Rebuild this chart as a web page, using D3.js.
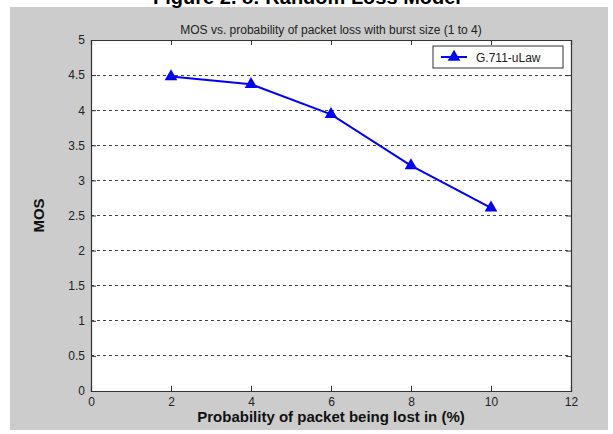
<!DOCTYPE html>
<html>
<head>
<meta charset="utf-8">
<script src="https://cdn.jsdelivr.net/npm/d3@7"></script>
<style>
body { margin: 0; background: #fff; }
text { font-family: Arial, "Liberation Sans", sans-serif; }
</style>
</head>
<body>
<script>
// data
const lossPct = [2, 4, 6, 8, 10];
const mos = [4.48, 4.37, 3.94, 3.21, 2.61];
const xTicks = [0, 2, 4, 6, 8, 10, 12];
const yTicks = [0, 0.5, 1, 1.5, 2, 2.5, 3, 3.5, 4, 4.5, 5];
const seriesName = "G.711-uLaw";

const W = 613, H = 434;
const plot = {left: 91, top: 40, right: 571, bottom: 391};

const svg = d3.select("body").append("svg")
    .attr("width", W)
    .attr("height", H);

// grey figure background
svg.append("rect")
    .attr("x", 10).attr("y", 7)
    .attr("width", 598).attr("height", 423)
    .attr("fill", "#cccccc");

// figure caption, mostly cut off at the top like in the scan
svg.append("text")
    .attr("x", 307).attr("y", 4)
    .attr("text-anchor", "middle")
    .attr("font-family", "'Liberation Serif', 'Times New Roman', serif")
    .attr("font-weight", "bold")
    .attr("font-size", "20px")
    .text("Figure 2. 8: Random Loss Model");

const x = d3.scaleLinear().domain([0, 12]).range([plot.left, plot.right]);
const y = d3.scaleLinear().domain([0, 5]).range([plot.bottom, plot.top]);

svg.append("rect")
    .attr("x", plot.left).attr("y", plot.top)
    .attr("width", plot.right - plot.left).attr("height", plot.bottom - plot.top)
    .attr("fill", "#fff");

// dashed grid
svg.append("g")
    .selectAll("line")
    .data(yTicks.filter(d => d > 0 && d < 5))
    .enter()
    .append("line")
    .attr("x1", plot.left).attr("x2", plot.right)
    .attr("y1", d => y(d)).attr("y2", d => y(d))
    .attr("stroke", "#444")
    .attr("stroke-dasharray", "3,3")
    .attr("shape-rendering", "crispEdges");

// axes, ticks pointing inward
const tickFmt = d3.format("");
svg.append("g")
    .attr("transform", `translate(0,${plot.bottom})`)
    .call(d3.axisBottom(x).tickValues(xTicks).tickSize(-5).tickPadding(6).tickFormat(tickFmt));
svg.append("g")
    .attr("transform", `translate(0,${plot.top})`)
    .call(d3.axisTop(x).tickValues(xTicks).tickSize(-5).tickFormat(""));
svg.append("g")
    .attr("transform", `translate(${plot.left},0)`)
    .call(d3.axisLeft(y).tickValues(yTicks).tickSize(-5).tickPadding(6).tickFormat(tickFmt));
svg.append("g")
    .attr("transform", `translate(${plot.right},0)`)
    .call(d3.axisRight(y).tickValues(yTicks).tickSize(-5).tickFormat(""));

svg.selectAll(".domain").attr("stroke", "#333").attr("stroke-width", 1.2);
svg.selectAll(".tick line").attr("stroke", "#333");
svg.selectAll(".tick text")
    .attr("font-size", "12px")
    .attr("fill", "#222")
    .attr("font-family", "Arial, 'Liberation Sans', sans-serif");

// plot title
svg.append("text")
    .attr("x", (plot.left + plot.right) / 2).attr("y", 34)
    .attr("text-anchor", "middle")
    .attr("font-size", "12px")
    .attr("fill", "#222")
    .text("MOS vs. probability of packet loss with burst size (1 to 4)");

// axis labels
svg.append("text")
    .attr("x", (plot.left + plot.right) / 2).attr("y", 422)
    .attr("text-anchor", "middle")
    .attr("font-size", "15px")
    .attr("font-weight", "bold")
    .attr("fill", "#111")
    .text("Probability of packet being lost in (%)");

svg.append("text")
    .attr("transform", `translate(44,${(plot.top + plot.bottom) / 2}) rotate(-90)`)
    .attr("text-anchor", "middle")
    .attr("font-size", "15px")
    .attr("font-weight", "bold")
    .attr("fill", "#111")
    .text("MOS");

// series
const pts = lossPct.map((d, i) => ({x: d, y: mos[i]}));
const tri = d3.symbol().type(d3.symbolTriangle).size(70);

svg.append("path")
    .datum(pts)
    .attr("fill", "none")
    .attr("stroke", "#0000ff")
    .attr("stroke-width", 2)
    .attr("d", d3.line().x(d => x(d.x)).y(d => y(d.y)));

svg.append("g")
    .selectAll("path")
    .data(pts)
    .enter()
    .append("path")
    .attr("transform", d => `translate(${x(d.x)},${y(d.y)})`)
    .attr("d", tri)
    .attr("fill", "#0000ff");

// legend
const lg = svg.append("g").attr("transform", "translate(433,46)");
lg.append("rect")
    .attr("width", 130).attr("height", 22)
    .attr("fill", "#fff")
    .attr("stroke", "#333");
lg.append("line")
    .attr("x1", 8).attr("x2", 34)
    .attr("y1", 11).attr("y2", 11)
    .attr("stroke", "#0000ff").attr("stroke-width", 2);
lg.append("path")
    .attr("transform", "translate(21,11)")
    .attr("d", tri)
    .attr("fill", "#0000ff");
lg.append("text")
    .attr("x", 43).attr("y", 15.5)
    .attr("font-size", "12px")
    .attr("fill", "#222")
    .text(seriesName);
</script>
</body>
</html>
